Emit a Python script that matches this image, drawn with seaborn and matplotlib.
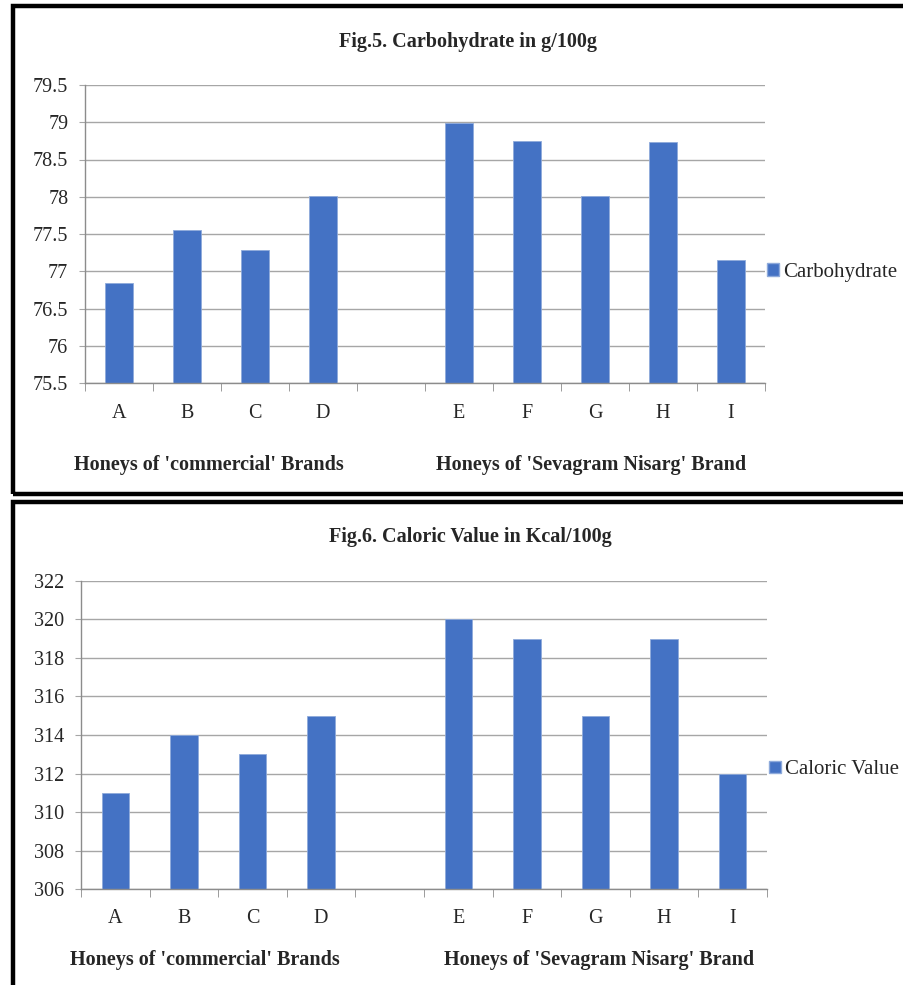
import matplotlib
matplotlib.use("Agg")
import matplotlib.pyplot as plt
from matplotlib.patches import Rectangle, Patch
import seaborn as sns
import pandas as pd

# Dados
CATEGORIAS = ['A', 'B', 'C', 'D', ' ', 'E', 'F', 'G', 'H', 'I']
MARCAS = ['A', 'B', 'C', 'D', 'E', 'F', 'G', 'H', 'I']
CARBOIDRATO = [76.84, 77.56, 77.29, 78.01, 78.99, 78.75, 78.01, 78.73, 77.15]
CALORICO = [311, 314, 313, 315, 320, 319, 315, 319, 312]

CARB_TICKS = [75.5, 76, 76.5, 77, 77.5, 78, 78.5, 79, 79.5]
CARB_LABELS = ['75.5', '76', '76.5', '77', '77.5', '78', '78.5', '79', '79.5']
CAL_TICKS = [306, 308, 310, 312, 314, 316, 318, 320, 322]

AZUL = '#4472C4'
CINZA = '#a6a6a6'
FONTE = ['Liberation Serif', 'DejaVu Serif']

sns.set_style("white")
plt.rcParams['font.family'] = FONTE

W, H = 904, 985
fig = plt.figure(figsize=(W / 100, H / 100), dpi=100)


def px_box(left, right, top, bottom):
    return [left / W, 1 - bottom / H, (right - left) / W, (bottom - top) / H]


def desenha_painel(box, valores, nome, ticks, labels, ylim, leg_y, x_pad):
    ax = fig.add_axes(box)
    df = pd.DataFrame({'Marca': MARCAS, 'Valor': valores})
    sns.barplot(data=df, x='Marca', y='Valor', order=CATEGORIAS, color=AZUL,
                saturation=1, width=0.4, edgecolor='#8eaadb', linewidth=0.6,
                ax=ax)
    ax.set_ylim(*ylim)
    ax.set_xlim(-0.5, len(CATEGORIAS) - 0.5)
    ax.set_yticks(ticks)
    ax.set_yticklabels(labels)
    ax.yaxis.grid(True, color=CINZA, linewidth=1.0)
    ax.set_axisbelow(True)
    ax.set_xlabel('')
    ax.set_ylabel('')
    for s in ['top', 'right']:
        ax.spines[s].set_visible(False)
    for s in ['left', 'bottom']:
        ax.spines[s].set_color('#8c8c8c')
        ax.spines[s].set_linewidth(1.0)
    ax.tick_params(axis='y', length=4, color=CINZA, pad=8, labelsize=14.5,
                   left=True)
    ax.tick_params(axis='x', which='major', length=0, pad=x_pad, labelsize=14.5)
    ax.set_xticks([i - 0.5 for i in range(len(CATEGORIAS) + 1)], minor=True)
    ax.tick_params(axis='x', which='minor', length=6, color='#8c8c8c',
                   bottom=True)
    handle = Patch(facecolor=AZUL, edgecolor='#8eaadb')
    ax.legend([handle], [nome], loc='center left', bbox_to_anchor=(1.0, leg_y),
              frameon=False, handlelength=0.55, handleheight=0.55,
              handletextpad=0.2, borderaxespad=0, borderpad=0.1, fontsize=15)
    return ax


# Painel superior
ax1 = desenha_painel(px_box(85, 765, 85, 383), CARBOIDRATO, 'Carbohydrate',
                     CARB_TICKS, CARB_LABELS, (75.5, 79.5), 0.372, 15)
# Painel inferior
ax2 = desenha_painel(px_box(81, 767, 580.7, 889.3), CALORICO, 'Caloric Value',
                     CAL_TICKS, [str(t) for t in CAL_TICKS], (306, 322), 0.387, 14)

# Títulos e rótulos de grupos
fig.text(468 / W, 1 - 42 / H, 'Fig.5. Carbohydrate in g/100g', ha='center',
         va='center', fontsize=14.5, fontweight='bold')
fig.text(470 / W, 1 - 537 / H, 'Fig.6. Caloric Value in Kcal/100g', ha='center',
         va='center', fontsize=14.5, fontweight='bold')

fig.text(209 / W, 1 - 465 / H, "Honeys of 'commercial' Brands", ha='center',
         va='center', fontsize=14.5, fontweight='bold')
fig.text(591 / W, 1 - 465 / H, "Honeys of 'Sevagram Nisarg' Brand", ha='center',
         va='center', fontsize=14.5, fontweight='bold')
fig.text(205 / W, 1 - 960 / H, "Honeys of 'commercial' Brands", ha='center',
         va='center', fontsize=14.5, fontweight='bold')
fig.text(599 / W, 1 - 960 / H, "Honeys of 'Sevagram Nisarg' Brand", ha='center',
         va='center', fontsize=14.5, fontweight='bold')

# Molduras pretas
for top, bottom in [(6, 494), (502, 1000)]:
    fig.patches.append(Rectangle((13 / W, 1 - bottom / H), (920 - 13) / W,
                                 (bottom - top) / H, transform=fig.transFigure,
                                 fill=False, edgecolor='black', linewidth=3.2))

fig.savefig('out.png', dpi=100)
